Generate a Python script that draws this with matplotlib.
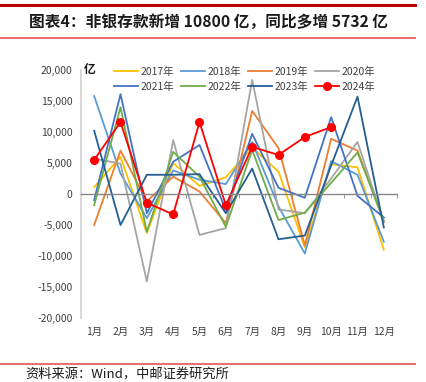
import matplotlib
matplotlib.use("Agg")
import matplotlib.pyplot as plt
from matplotlib.lines import Line2D
from matplotlib.ticker import FuncFormatter

plt.rcParams["font.family"] = ["Noto Sans CJK SC", "DejaVu Sans"]

months = ["1月", "2月", "3月", "4月", "5月", "6月", "7月", "8月", "9月", "10月", "11月", "12月"]

# 非银存款新增（亿元）
y2017 = [1100, 6000, -6300, 5000, 1300, 2700, 7500, 3600, -8600, 4800, 4300, -9000]
y2018 = [15800, 3300, -3900, 3800, 2300, 1600, 8400, -2000, -9600, 5300, 3100, -7700]
y2019 = [-5000, 7000, -1200, 2800, 400, -4700, 13400, 7400, -8300, 8900, 7000, -4500]
y2020 = [5700, 4900, -14100, 8700, -6600, -5500, 18400, -2500, -3100, 2500, 8400, -4600]
y2021 = [-1000, 16100, -3100, 5200, 7900, -2600, 9700, 1000, -600, 12400, -300, -3800]
y2022 = [-1800, 14000, -6100, 6800, 2800, -5300, 7100, -4200, -3000, 1800, 6700, -4300]
y2023 = [10200, -5000, 3100, 3100, 3200, -3100, 4100, -7300, -6700, 4600, 15700, -5400]
y2024 = [5500, 11600, -1400, -3300, 11600, -1800, 7600, 6300, 9200, 10800]

series = [
    ("2017年", y2017, "#FFC000"),
    ("2018年", y2018, "#5B9BD5"),
    ("2019年", y2019, "#ED7D31"),
    ("2020年", y2020, "#A5A5A5"),
    ("2021年", y2021, "#4472C4"),
    ("2022年", y2022, "#70AD47"),
    ("2023年", y2023, "#255E91"),
]

W, H = 427, 382
fig = plt.figure(figsize=(W / 100, H / 100), dpi=100)

# 标题和红色分隔线
fig.add_artist(Line2D([0, 415 / W], [1 - 5 / H, 1 - 5 / H], color="#C00000", lw=2.2))
fig.add_artist(Line2D([0, 415 / W], [1 - 37.5 / H, 1 - 37.5 / H], color="#E57373", lw=1.5))
fig.add_artist(Line2D([0, 415 / W], [1 - 364 / H, 1 - 364 / H], color="#E57373", lw=1.5))
fig.text(29 / W, 1 - 22 / H, "图表4：非银存款新增 10800 亿，同比多增 5732 亿",
         fontsize=11.3, fontweight="bold", va="center", ha="left", color="#1a1a1a")
fig.text(25 / W, 1 - 368 / H, "资料来源：Wind，中邮证券研究所",
         fontsize=9.5, va="top", ha="left", color="#1a1a1a")

ax = fig.add_axes([81 / W, (H - 318) / H, 316 / W, 248 / H])
x = list(range(12))
for name, vals, c in series:
    ax.plot(x, vals, color=c, lw=1.3, label=name)
ax.plot(x[:len(y2024)], y2024, color="#FF0000", lw=1.3, marker="o", ms=5.5, label="2024年")

ax.set_xlim(-0.5, 11.5)
ax.set_ylim(-20000, 20000)
ax.set_yticks(range(-20000, 20001, 5000))
ax.yaxis.set_major_formatter(FuncFormatter(lambda v, p: f"{int(v):,}"))

for s in ["top", "right"]:
    ax.spines[s].set_visible(False)
ax.spines["left"].set_color("#D9D9D9")
ax.spines["left"].set_linewidth(1.5)
ax.spines["bottom"].set_position(("data", 0))
ax.spines["bottom"].set_color("#868686")
ax.spines["bottom"].set_linewidth(1.0)

ax.set_xticks(x)
ax.set_xticklabels(months)
ax.set_xticks([i + 0.5 for i in range(-1, 12)], minor=True)
ax.tick_params(axis="x", which="major", length=0, pad=96, labelsize=7.5, labelcolor="#404040")
ax.tick_params(axis="x", which="minor", length=3, color="#868686", direction="out")
ax.tick_params(axis="y", length=0, pad=6, labelsize=7.5, labelcolor="#404040")

ax.text(0.01, 1.0, "亿", transform=ax.transAxes, fontsize=8.5, fontweight="bold",
        va="center", ha="left", color="#1a1a1a")

# 图例按行排列
handles, labels = ax.get_legend_handles_labels()
order = [0, 4, 1, 5, 2, 6, 3, 7]
ax.legend([handles[i] for i in order], [labels[i] for i in order],
          ncol=4, loc="upper left", bbox_to_anchor=(0.09, 1.03), frameon=False,
          fontsize=7.5, handlelength=2.3, handletextpad=0.3, columnspacing=0.6,
          labelspacing=0.5, borderaxespad=0, labelcolor="#404040")

fig.savefig("out.png", dpi=100)
